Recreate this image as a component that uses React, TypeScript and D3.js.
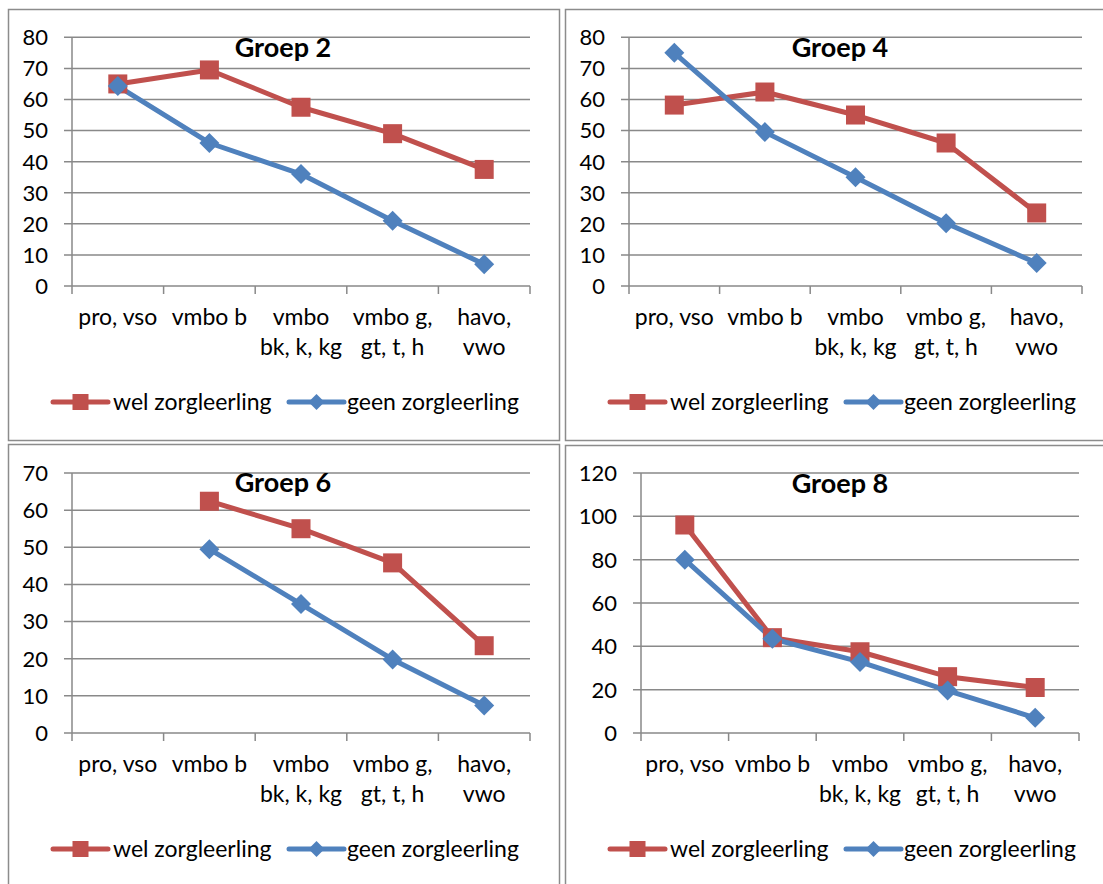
import React from "react";
import * as d3 from "d3";

const categories: string[][] = [
  ["pro, vso"],
  ["vmbo b"],
  ["vmbo", "bk, k, kg"],
  ["vmbo g,", "gt, t, h"],
  ["havo,", "vwo"],
];

const seriesNames = ["wel zorgleerling", "geen zorgleerling"];

const groep2Wel: (number | null)[] = [65, 69.5, 57.5, 49, 37.5];
const groep2Geen: (number | null)[] = [64.3, 46, 36, 21, 7];
const groep4Wel: (number | null)[] = [58.2, 62.4, 55, 46, 23.5];
const groep4Geen: (number | null)[] = [75, 49.5, 35, 20.2, 7.4];
const groep6Wel: (number | null)[] = [null, 62.4, 55, 45.8, 23.5];
const groep6Geen: (number | null)[] = [null, 49.5, 34.7, 19.8, 7.4];
const groep8Wel: (number | null)[] = [96, 44, 37.5, 26, 21];
const groep8Geen: (number | null)[] = [80, 43.5, 32.8, 19.6, 7];

const titles = ["Groep 2", "Groep 4", "Groep 6", "Groep 8"];
const yMaxes = [80, 80, 70, 120];
const yStepCounts = [8, 8, 7, 6];

const RED = "#C0504D";
const BLUE = "#4F81BD";
const GRID = "#898989";
const FONT = "Lato, 'Noto Sans', sans-serif";
const LABEL_SIZE = 23;
const TICK_SIZE = 22;

const panels = [
  { x: 8, y: 9, w: 551, h: 431, axisX: 72, right: 530, top: 37.3, bottom: 286, wel: groep2Wel, geen: groep2Geen },
  { x: 565, y: 9, w: 540, h: 431, axisX: 629, right: 1082, top: 37.3, bottom: 286, wel: groep4Wel, geen: groep4Geen },
  { x: 8, y: 444, w: 551, h: 445, axisX: 72, right: 530, top: 473, bottom: 733, wel: groep6Wel, geen: groep6Geen },
  { x: 565, y: 445, w: 540, h: 445, axisX: 641, right: 1079, top: 473, bottom: 733, wel: groep8Wel, geen: groep8Geen },
];

function Diamond({ cx, cy, r, color }: { cx: number; cy: number; r: number; color: string }) {
  return (
    <path
      d={`M${cx},${cy - r}L${cx + r},${cy}L${cx},${cy + r}L${cx - r},${cy}Z`}
      fill={color}
    />
  );
}

function Panel({ p, idx }: { p: (typeof panels)[number]; idx: number }) {
  const yMax = yMaxes[idx];
  const y = d3.scaleLinear().domain([0, yMax]).range([p.bottom, p.top]);
  const xBand = d3
    .scaleBand<number>()
    .domain(categories.map((_, i) => i))
    .range([p.axisX, p.right]);
  const cx = (i: number) => (xBand(i) as number) + xBand.bandwidth() / 2;
  const ticks = d3.range(0, yMax + 0.001, yMax / yStepCounts[idx]);
  const line = d3
    .line<number | null>()
    .defined((d) => d !== null)
    .x((_, i) => cx(i))
    .y((d) => y(d as number));

  const legendY = p.bottom + 116;
  const titleX = p.x + 275;

  return (
    <g>
      <rect x={p.x + 0.5} y={p.y + 0.5} width={p.w} height={p.h} fill="#fff" stroke="#8c8c8c" strokeWidth={1.5} />
      {ticks.map((t) => (
        <g key={t}>
          <line x1={p.axisX - 8} x2={p.right} y1={y(t)} y2={y(t)} stroke={GRID} strokeWidth={1.5} />
          <text
            x={p.axisX - 24}
            y={y(t)}
            dy="0.36em"
            textAnchor="end"
            fontSize={TICK_SIZE}
            fontFamily={FONT}
            fill="#000"
          >
            {d3.format("d")(t)}
          </text>
        </g>
      ))}
      <line x1={p.axisX} x2={p.axisX} y1={p.top} y2={p.bottom + 8} stroke={GRID} strokeWidth={1.5} />
      {categories.map((_, i) => (
        <line
          key={i}
          x1={(xBand(i) as number) + xBand.bandwidth()}
          x2={(xBand(i) as number) + xBand.bandwidth()}
          y1={p.bottom}
          y2={p.bottom + 8}
          stroke={GRID}
          strokeWidth={1.5}
        />
      ))}
      {categories.map((lines, i) =>
        lines.map((l, j) => (
          <text
            key={`${i}-${j}`}
            x={cx(i)}
            y={p.bottom + 39 + j * 29.5}
            textAnchor="middle"
            fontSize={LABEL_SIZE}
            fontFamily={FONT}
            fill="#000"
          >
            {l}
          </text>
        ))
      )}
      <text
        x={titleX}
        y={p.y + 48}
        textAnchor="middle"
        fontSize={27}
        fontWeight="bold"
        fontFamily={FONT}
        fill="#000"
      >
        {titles[idx]}
      </text>
      <path d={line(p.wel) || ""} fill="none" stroke={RED} strokeWidth={5} strokeLinejoin="round" />
      <path d={line(p.geen) || ""} fill="none" stroke={BLUE} strokeWidth={5} strokeLinejoin="round" />
      {p.wel.map((v, i) =>
        v === null ? null : (
          <rect key={`w${i}`} x={cx(i) - 9.5} y={y(v) - 9.5} width={19} height={19} fill={RED} />
        )
      )}
      {p.geen.map((v, i) =>
        v === null ? null : <Diamond key={`g${i}`} cx={cx(i)} cy={y(v)} r={10} color={BLUE} />
      )}
      {/* legend */}
      <g>
        <line x1={p.x + 45} x2={p.x + 100} y1={legendY} y2={legendY} stroke={RED} strokeWidth={5} strokeLinecap="round" />
        <rect x={p.x + 72.5 - 8} y={legendY - 8} width={16} height={16} fill={RED} />
        <text x={p.x + 105} y={legendY} dy="0.36em" fontSize={LABEL_SIZE} fontFamily={FONT} fill="#000">
          {seriesNames[0]}
        </text>
        <line x1={p.x + 281} x2={p.x + 336} y1={legendY} y2={legendY} stroke={BLUE} strokeWidth={5} strokeLinecap="round" />
        <Diamond cx={p.x + 308.5} cy={legendY} r={8} color={BLUE} />
        <text x={p.x + 339} y={legendY} dy="0.36em" fontSize={LABEL_SIZE} fontFamily={FONT} fill="#000">
          {seriesNames[1]}
        </text>
      </g>
    </g>
  );
}

export default function App() {
  return (
    <svg
      width={1103}
      height={884}
      style={{ position: "absolute", left: 0, top: 0, background: "#fff" }}
    >
      <rect x={0} y={0} width={1103} height={884} fill="#fff" />
      {panels.map((p, i) => (
        <Panel key={i} p={p} idx={i} />
      ))}
    </svg>
  );
}
